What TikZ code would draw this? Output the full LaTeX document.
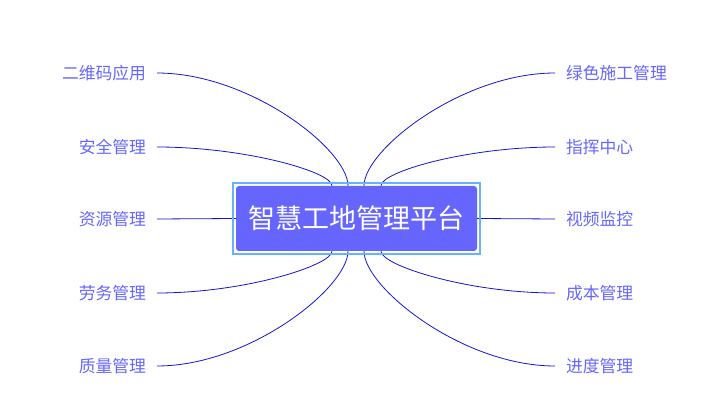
\documentclass[tikz,border=0pt]{standalone}
\usepackage{fontspec}
\setmainfont{Noto Sans CJK SC}
\definecolor{labcol}{RGB}{102,102,255}
\definecolor{linecol}{RGB}{20,20,205}
\definecolor{boxfill}{RGB}{102,102,255}
\definecolor{boxline}{RGB}{102,178,255}
\begin{document}
\begin{tikzpicture}[x=1pt,y=-1pt,
  lab/.style={inner sep=0pt,outer xsep=11pt,text=labcol,font=\fontsize{16.8}{20}\selectfont},
  conn/.style={draw=linecol,line width=0.8pt},
  centerbox/.style={fill=boxfill,rounded corners=3pt,minimum width=241pt,minimum height=65pt,inner sep=0pt,text=white,font=\fontsize{27}{31}\selectfont},
  outerbox/.style={draw=boxline,line width=1.8pt}]
\useasboundingbox (0,0) rectangle (728,419);
% labels
\node[lab,anchor=east] (l1) at (157,73) {二维码应用};
\node[lab,anchor=east] (l2) at (157,147) {安全管理};
\node[lab,anchor=east] (l3) at (157,219) {资源管理};
\node[lab,anchor=east] (l4) at (157,293) {劳务管理};
\node[lab,anchor=east] (l5) at (157,366) {质量管理};
\node[lab,anchor=west] (r1) at (555,73) {绿色施工管理};
\node[lab,anchor=west] (r2) at (555,147) {指挥中心};
\node[lab,anchor=west] (r3) at (555,219) {视频监控};
\node[lab,anchor=west] (r4) at (555,293) {成本管理};
\node[lab,anchor=west] (r5) at (555,366) {进度管理};
% center node
\node[centerbox] (c) at (356.5,218.5) {智慧工地管理平台};
% attach points
\coordinate (t1) at ([xshift=-24.5pt]c.north);
\coordinate (t2) at ([xshift=-8.5pt]c.north);
\coordinate (t3) at ([xshift=7.5pt]c.north);
\coordinate (t4) at ([xshift=24.5pt]c.north);
\coordinate (b1) at ([xshift=-24.5pt]c.south);
\coordinate (b2) at ([xshift=-8.5pt]c.south);
\coordinate (b3) at ([xshift=7.5pt]c.south);
\coordinate (b4) at ([xshift=24.5pt]c.south);
% connectors
\draw[conn] (l1.east) .. controls +(93,0) and +(0,-36) .. (t2);
\draw[conn] (l2.east) .. controls +(88,0) and +(0,-14) .. (t1);
\draw[conn] (l3.east) -- (c.west);
\draw[conn] (l4.east) .. controls +(88,0) and +(0,14) .. (b1);
\draw[conn] (l5.east) .. controls +(93,0) and +(0,36) .. (b2);
\draw[conn] (r1.west) .. controls +(-93,0) and +(0,-36) .. (t3);
\draw[conn] (r2.west) .. controls +(-88,0) and +(0,-14) .. (t4);
\draw[conn] (r3.west) -- (c.east);
\draw[conn] (r4.west) .. controls +(-88,0) and +(0,14) .. (b4);
\draw[conn] (r5.west) .. controls +(-93,0) and +(0,36) .. (b3);
% outer frame
\draw[outerbox] ([xshift=-2.5pt,yshift=2.5pt]c.north west) rectangle ([xshift=2.5pt,yshift=-2.5pt]c.south east);
\end{tikzpicture}
\end{document}
